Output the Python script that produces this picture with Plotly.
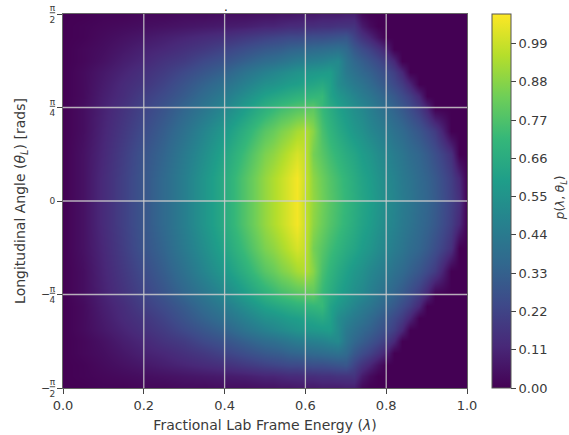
import math
import plotly.graph_objects as go

lam = [0, .05, .10, .15, .20, .25, .30, .35, .40, .45, .50,
       .52, .54, .56, .58, .60, .62, .64, .66, .68, .70, .72, .74, .76, .78, .80,
       .82, .84, .86, .88, .90, .92, .94, .96, .98, 1.0]
theta_upper_fractions = [0/32, 2/32, 4/32, 6/32, 8/32, 9/32, 10/32, 11/32, 12/32, 13/32, 14/32, 15/32, 16/32]

# Each row: density read at lam for one angle (multiple of pi), mirrored below zero.
row_00 = [0,.05,.13,.21,.29,.37,.46,.56,.66,.78,.90,.94,.98,1.02,1.06,.98,.90,.84,.79,.75,.71,.67,.63,.60,.56,.52,.49,.45,.42,.38,.35,.31,.26,.21,.15,0]
row_02 = [0,.05,.13,.21,.29,.37,.46,.56,.66,.78,.90,.94,.98,1.02,1.06,.99,.89,.83,.78,.74,.70,.66,.62,.59,.55,.51,.48,.44,.41,.37,.34,.30,.25,.20,.12,0]
row_04 = [0,.05,.12,.20,.28,.35,.44,.53,.63,.74,.86,.89,.93,.97,1.01,.98,.85,.79,.74,.70,.66,.63,.59,.56,.52,.49,.45,.42,.38,.35,.31,.26,.21,.15,0,0]
row_06 = [0,.04,.11,.18,.25,.32,.40,.49,.58,.68,.79,.82,.86,.89,.93,.95,.88,.76,.70,.65,.61,.57,.54,.50,.47,.44,.40,.37,.33,.29,.24,.19,.10,0,0,0]
row_08 = [0,.04,.10,.16,.22,.28,.35,.42,.50,.59,.68,.71,.74,.76,.78,.79,.80,.72,.66,.61,.57,.53,.50,.46,.42,.38,.34,.30,.25,.19,.11,0,0,0,0,0]
row_09 = [0,.03,.09,.14,.20,.25,.31,.38,.45,.53,.61,.63,.65,.67,.69,.70,.71,.72,.62,.57,.53,.49,.45,.42,.38,.34,.30,.25,.20,.12,0,0,0,0,0,0]
row_10 = [0,.03,.08,.13,.17,.22,.28,.34,.40,.47,.54,.55,.57,.59,.60,.62,.63,.65,.61,.52,.48,.44,.41,.37,.33,.29,.24,.19,.11,0,0,0,0,0,0,0]
row_11 = [0,.03,.07,.11,.15,.19,.24,.29,.34,.41,.47,.49,.51,.53,.55,.56,.57,.58,.59,.52,.44,.40,.36,.33,.29,.25,.20,.12,0,0,0,0,0,0,0,0]
row_12 = [0,.02,.05,.09,.12,.16,.19,.24,.28,.33,.38,.39,.41,.43,.45,.46,.47,.48,.50,.51,.42,.36,.32,.28,.24,.19,.12,0,0,0,0,0,0,0,0,0]
row_13 = [0,.02,.04,.07,.10,.12,.15,.18,.22,.26,.30,.31,.32,.34,.35,.36,.37,.38,.39,.40,.37,.30,.25,.21,.16,.10,0,0,0,0,0,0,0,0,0,0]
row_14 = [0,.01,.03,.05,.07,.09,.11,.13,.15,.18,.21,.22,.23,.24,.24,.25,.26,.26,.27,.28,.29,.22,.16,.11,.05,0,0,0,0,0,0,0,0,0,0,0]
row_15 = [0,.01,.02,.03,.04,.05,.06,.07,.08,.09,.11,.11,.12,.13,.13,.14,.14,.15,.15,.16,.16,.16,.08,.03,0,0,0,0,0,0,0,0,0,0,0,0]
row_16 = [0,0,.01,.01,.02,.02,.03,.03,.04,.04,.05,.05,.06,.06,.07,.07,.07,.08,.08,.08,.09,.09,.02,0,0,0,0,0,0,0,0,0,0,0,0,0]

x_ticks = [0, 0.2, 0.4, 0.6, 0.8, 1.0]
x_tick_text = ["0.0", "0.2", "0.4", "0.6", "0.8", "1.0"]
y_tick_fractions = [-0.5, -0.25, 0, 0.25, 0.5]
y_tick_text = ["<u>π</u><br>2", "<u>π</u><br>4", "0", "<u>π</u><br>4", "<u>π</u><br>2"]
cbar_ticks = [0.00, 0.11, 0.22, 0.33, 0.44, 0.55, 0.66, 0.77, 0.88, 0.99]
cbar_text = ["0.00", "0.11", "0.22", "0.33", "0.44", "0.55", "0.66", "0.77", "0.88", "0.99"]

rows_upper = [row_00, row_02, row_04, row_06, row_08, row_09, row_10, row_11, row_12, row_13, row_14, row_15, row_16]
z = rows_upper[:0:-1] + rows_upper
theta = [-f * math.pi for f in theta_upper_fractions[:0:-1]] + [f * math.pi for f in theta_upper_fractions]
y_ticks = [f * math.pi for f in y_tick_fractions]

FONT = "DejaVu Sans"
INK = "#3a3a3a"

fig = go.Figure(go.Heatmap(
    x=lam, y=theta, z=z, zmin=0, zmax=1.075, zsmooth="best", colorscale="Viridis",
    colorbar=dict(
        x=1.062, xanchor="left", xpad=0, ypad=0, thickness=19, len=1, y=0.5, yanchor="middle",
        outlinewidth=1, outlinecolor="#555555",
        tickmode="array", tickvals=cbar_ticks, ticktext=cbar_text,
        ticks="outside", ticklen=5, tickcolor="#444444",
        tickfont=dict(family=FONT, size=13, color=INK),
    ),
))

for v in x_ticks[1:-1]:
    fig.add_shape(type="line", x0=v, x1=v, y0=y_ticks[0], y1=y_ticks[-1],
                  line=dict(color="rgba(205,205,205,0.85)", width=1.3))
for v in y_ticks[1:-1]:
    fig.add_shape(type="line", x0=x_ticks[0], x1=x_ticks[-1], y0=v, y1=v,
                  line=dict(color="rgba(205,205,205,0.85)", width=1.3))

for f in [-0.25, -0.5]:
    fig.add_annotation(text="−", x=0, xref="paper", xshift=-24, y=f * math.pi, yref="y",
                       showarrow=False, font=dict(family=FONT, size=11, color=INK))

fig.add_annotation(text=".", x=0.403, xref="paper", y=1, yref="paper", yanchor="bottom", yshift=-2,
                   showarrow=False, font=dict(family=FONT, size=12, color="#111111"))
fig.add_annotation(text="<i>p</i>(<i>λ</i>, <i>θ<sub>L</sub></i>)", x=1.258, xref="paper", y=0.5, yref="paper",
                   yshift=3, textangle=-90, showarrow=False, font=dict(family=FONT, size=12, color=INK))

fig.update_layout(
    width=569, height=435, margin=dict(l=63, r=102, t=14, b=47, autoexpand=False),
    paper_bgcolor="white", plot_bgcolor="white", showlegend=False,
    font=dict(family=FONT, color=INK),
    xaxis=dict(range=[0, 1], tickmode="array", tickvals=x_ticks, ticktext=x_tick_text,
               ticks="outside", ticklen=5, tickcolor="#444444", showgrid=False, zeroline=False,
               tickfont=dict(family=FONT, size=13, color=INK), mirror=True, showline=True,
               linecolor="#666666", linewidth=1, automargin=False,
               title=dict(text="Fractional Lab Frame Energy (<i>λ</i>)", standoff=8,
                          font=dict(family=FONT, size=14, color=INK))),
    yaxis=dict(range=[-math.pi / 2, math.pi / 2], tickmode="array", tickvals=y_ticks, ticktext=y_tick_text,
               ticks="outside", ticklen=5, tickcolor="#444444", showgrid=False, zeroline=False,
               tickfont=dict(family=FONT, size=9, color=INK), mirror=True, showline=True,
               linecolor="#666666", linewidth=1, automargin=False,
               title=dict(text="Longitudinal Angle (<i>θ<sub>L</sub></i>) [rads]", standoff=20,
                          font=dict(family=FONT, size=14, color=INK))),
)

fig.write_html("out.html", config={"displayModeBar": False}, post_script="document.body.style.margin='0';")
